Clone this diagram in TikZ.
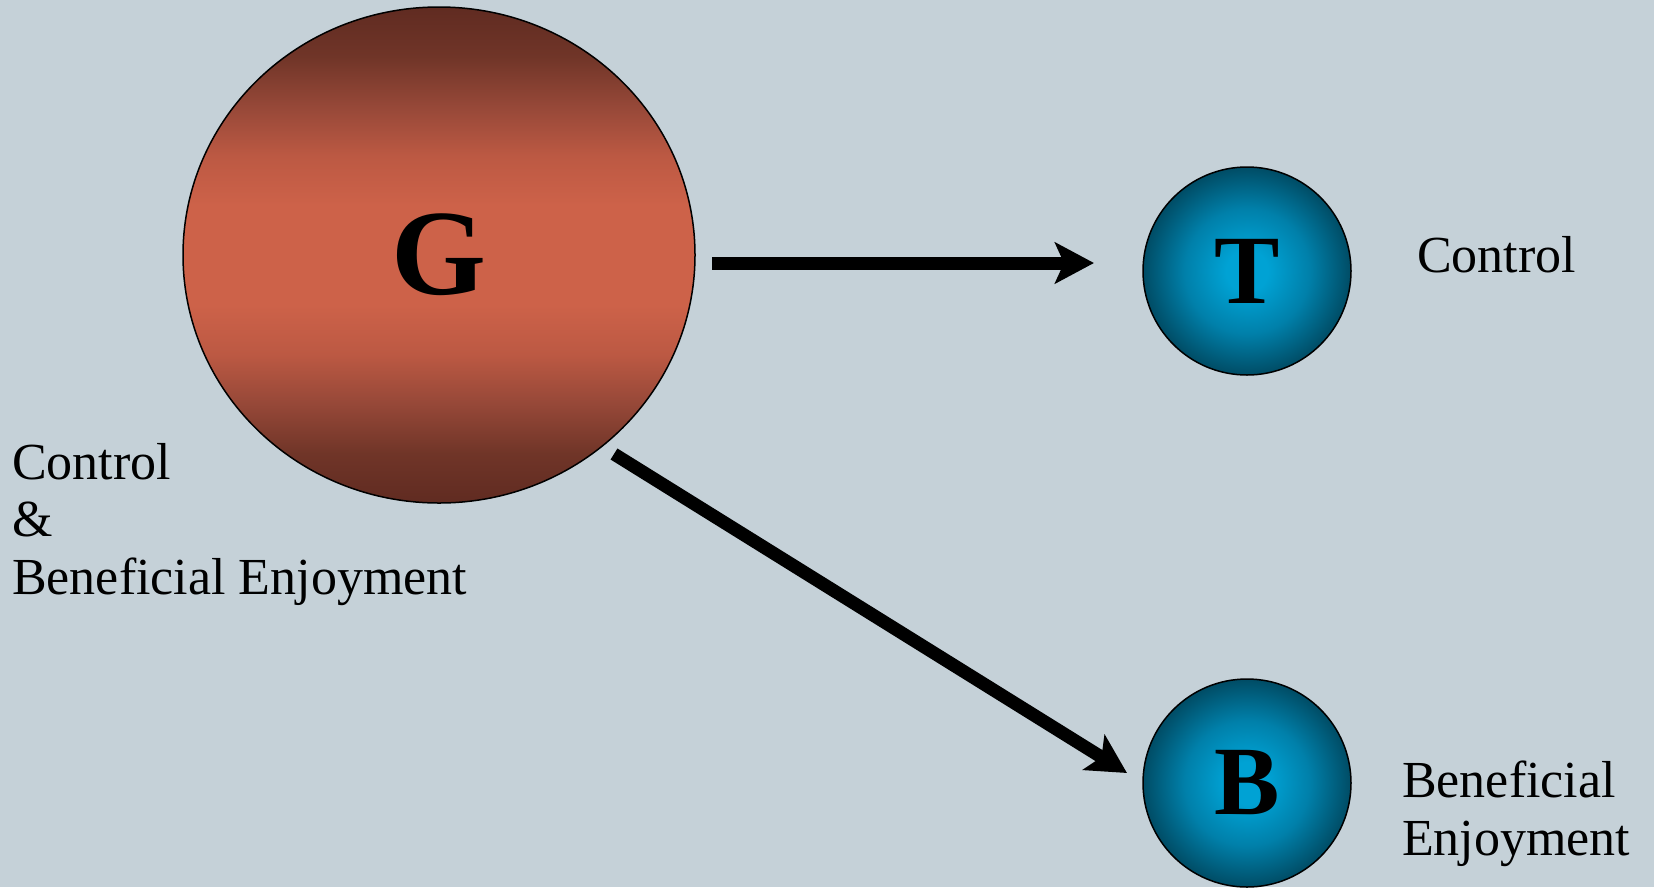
\documentclass[tikz,border=0pt]{standalone}
\usepackage{fontspec}
\setmainfont{Liberation Serif}
\usetikzlibrary{arrows.meta,shapes.geometric}
\definecolor{bgc}{RGB}{197,209,216}
\definecolor{gd0}{RGB}{96,43,33}
\definecolor{gd1}{RGB}{112,53,40}
\definecolor{gd2}{RGB}{150,72,56}
\definecolor{gd3}{RGB}{188,89,67}
\definecolor{gd4}{RGB}{205,98,73}
\definecolor{bc0}{RGB}{0,162,212}
\definecolor{bc1}{RGB}{0,128,170}
\definecolor{bc2}{RGB}{0,76,101}
\pgfdeclareverticalshading{gshade}{100bp}{color(0bp)=(gd0); color(25bp)=(gd0); color(30bp)=(gd1); color(35bp)=(gd2); color(40bp)=(gd3); color(45bp)=(gd4); color(55bp)=(gd4); color(60bp)=(gd3); color(65bp)=(gd2); color(70bp)=(gd1); color(75bp)=(gd0); color(100bp)=(gd0)}
\pgfdeclareradialshading{bshade}{\pgfpoint{0bp}{0bp}}{color(0bp)=(bc0); color(5bp)=(bc0); color(15bp)=(bc1); color(25bp)=(bc2); color(50bp)=(bc2)}
\tikzset{
  bigcirc/.style={ellipse, draw=black, line width=1.5pt, shading=gshade, inner sep=0pt,
    minimum width=512pt, minimum height=496pt, font=\fontsize{122}{122}\selectfont\bfseries},
  smallcirc/.style={circle, draw=black, line width=1.5pt, shading=bshade, inner sep=0pt,
    minimum size=208pt, font=\fontsize{98}{98}\selectfont\bfseries},
  lbl/.style={anchor=base west, inner sep=0pt, align=left,
    font=\fontsize{52}{57.5}\selectfont},
  arr/.style={line width=13pt, -{Stealth[length=39pt, width=41pt, inset=9pt]}}
}
\begin{document}
\begin{tikzpicture}[x=1pt,y=-1pt]
\useasboundingbox (0,0) rectangle (1654,887);
\fill[bgc] (0,0) rectangle (1654,887);
\begin{scope}
\clip (0,0) rectangle (1654,887);
\node[bigcirc] (G) at (439,255) {G};
\node[smallcirc] (T) at (1247,271) {T};
\node[smallcirc] (B) at (1247,783) {B};
\end{scope}
\node[lbl] (tc) at (1417,272) {Control};
\node[lbl] (gc) at (12,594) {Control\\\&\\Beneficial Enjoyment};
\node[lbl] (bc) at (1402,855) {Beneficial\\Enjoyment};
\coordinate (a1s) at (712,263);
\coordinate (a1e) at (1094,263);
\coordinate (a2s) at (614,454);
\coordinate (a2e) at (1127,773);
\draw[arr] (a1s) -- (a1e);
\draw[arr] (a2s) -- (a2e);
\end{tikzpicture}
\end{document}
